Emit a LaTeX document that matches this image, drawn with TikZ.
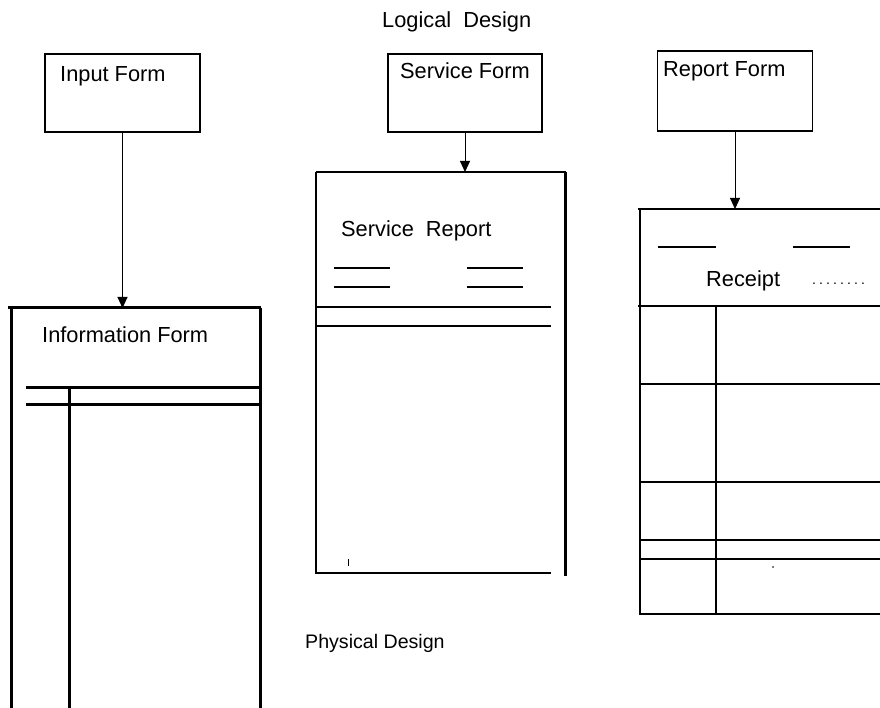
\documentclass[tikz,border=0pt]{standalone}
\usepackage{fontspec}
\setmainfont{Liberation Sans}
\usetikzlibrary{arrows.meta}
\begin{document}
\begin{tikzpicture}[x=1pt,y=-1pt,
  box/.style={draw,line width=1.6pt,rectangle,inner sep=0pt,outer sep=0pt},
  lbl/.style={anchor=base west,inner sep=0pt,font=\fontsize{21.8}{24}\selectfont},
  conn/.style={line width=1pt,-{Triangle[length=11pt,width=10pt]}},
  formline/.style={line width=2pt},
  heavyline/.style={line width=3pt},
  dashline/.style={line width=1.3pt}]
\useasboundingbox (0,0) rectangle (880,708);

% titles
\node[lbl] (logical) at (382,28) {Logical\ \ Design};
\node[lbl,font=\fontsize{19.6}{22}\selectfont] (physical) at (305,648) {Physical Design};

% logical forms
\node[box,minimum width=155pt,minimum height=78pt] (input) at (122.5,93) {};
\node[lbl] (inputlbl) at (60,82) {Input Form};
\node[box,minimum width=154pt,minimum height=78pt] (service) at (465,93) {};
\node[lbl] (servicelbl) at (400,79) {Service Form};
\node[box,minimum width=155pt,minimum height=80pt] (report) at (735,91) {};
\node[lbl] (reportlbl) at (663,77) {Report Form};

% connector targets
\coordinate (infotop) at (122.5,308);
\coordinate (srtop) at (465,172);
\coordinate (rctop) at (735,209);
\draw[conn] (input.south) -- (infotop);
\draw[conn] (service.south) -- (srtop);
\draw[conn] (report.south) -- (rctop);

% Information Form (physical)
\draw[heavyline] (8,308) -- (261,308);
\draw[heavyline] (11,308) -- (11,708);
\draw[heavyline] (260,308) -- (260,708);
\draw[heavyline] (26,387) -- (261,387);
\draw[heavyline] (26,404) -- (261,404);
\draw[heavyline] (69,387) -- (69,708);
\node[lbl] (infolbl) at (42,342) {Information Form};

% Service Report (physical)
\draw[formline] (316,172) -- (566,172);
\draw[line width=1.6pt] (316,172) -- (316,574);
\draw[heavyline] (565,172) -- (565,576);
\draw[formline] (316,573) -- (551,573);
\draw[formline] (316,307) -- (551,307);
\draw[formline] (316,326) -- (551,326);
\draw[dashline] (334,268) -- (390,268);
\draw[dashline] (334,287) -- (390,287);
\draw[dashline] (467,268) -- (523,268);
\draw[dashline] (467,287) -- (523,287);
\draw[line width=0.8pt] (348,559) -- (348,566);
\node[lbl] (srlbl) at (341,237) {Service\ \ Report};

% Receipt (physical)
\draw[formline] (638,209) -- (880,209);
\draw[formline] (640,209) -- (640,615);
\draw[formline] (638,306) -- (880,306);
\draw[formline] (716,306) -- (716,615);
\draw[formline] (640,384) -- (880,384);
\draw[formline] (640,482) -- (880,482);
\draw[formline] (640,540) -- (880,540);
\draw[formline] (640,559) -- (880,559);
\draw[formline] (639,614) -- (880,614);
\draw[dashline] (658,247) -- (716,247);
\draw[dashline] (793,247) -- (850,247);
\fill (773,567) circle (0.9pt);
\node[lbl] (rclbl) at (706,287) {Receipt};
\node[lbl,font=\fontsize{14}{16}\selectfont\addfontfeature{LetterSpace=22}] (rcdots) at (812,285) {........};
\end{tikzpicture}
\end{document}
